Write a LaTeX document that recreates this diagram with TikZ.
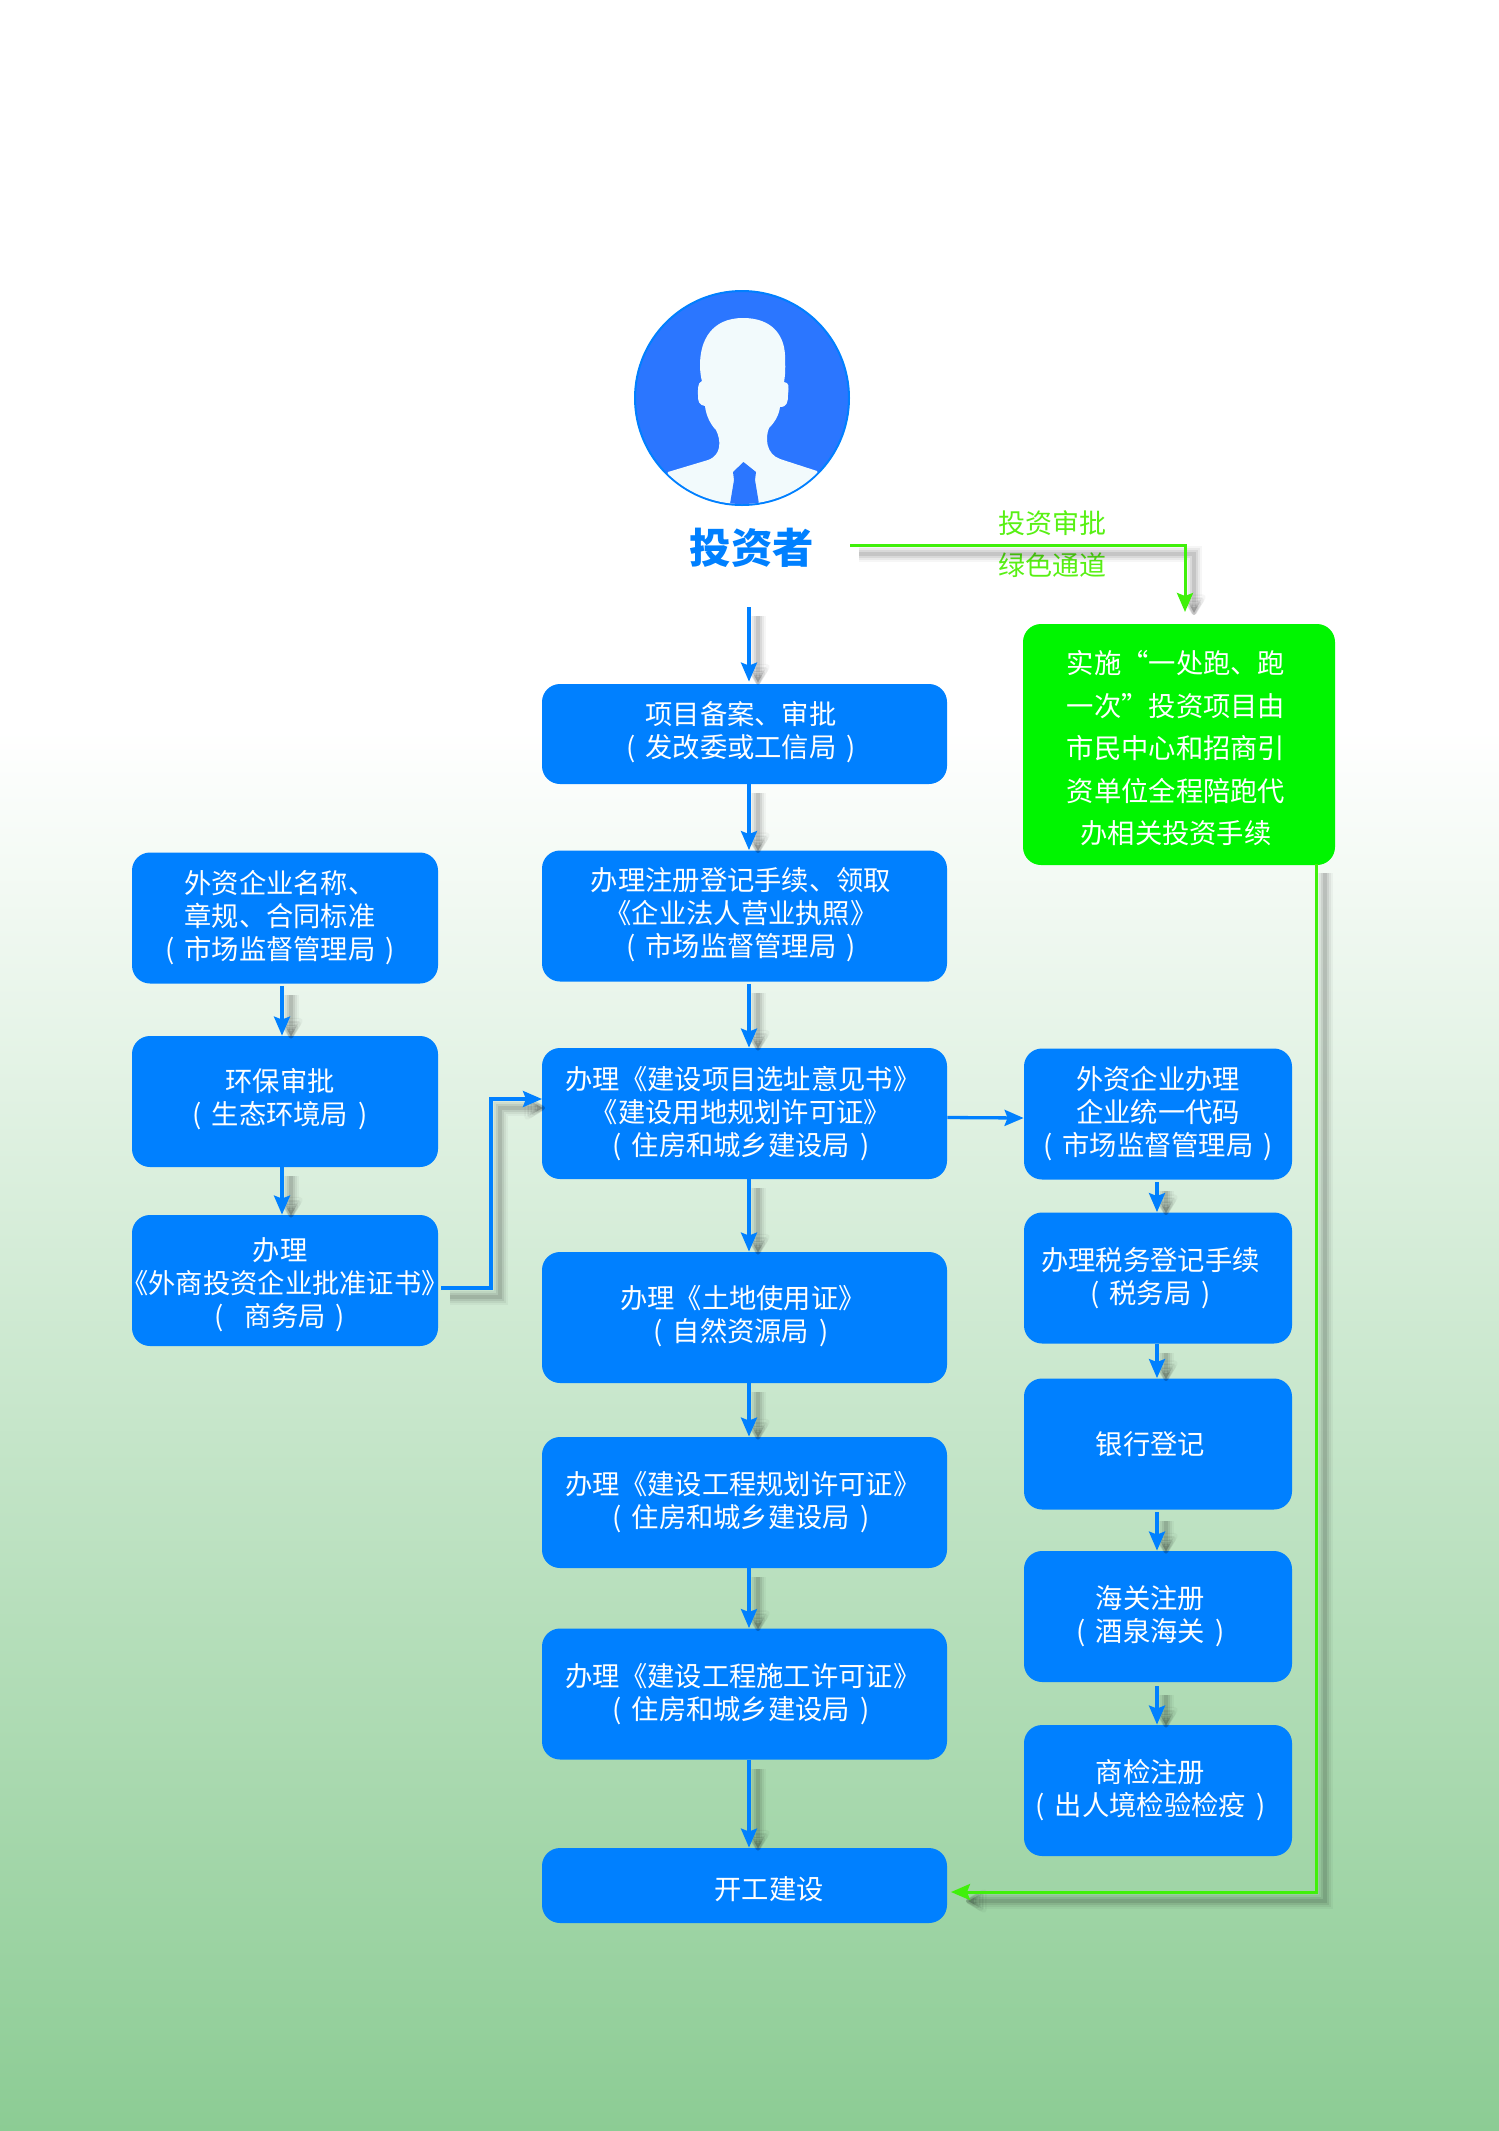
\documentclass[tikz,border=0pt]{standalone}
\usepackage{fontspec}
\setmainfont{Noto Sans CJK SC}
\usepackage{color}
\usepackage{tikz}
\usetikzlibrary{arrows.meta}
\definecolor{flowblue}{RGB}{0,128,255}
\definecolor{avatarblue}{RGB}{43,118,255}
\definecolor{gatefill}{RGB}{0,245,0}
\definecolor{gateline}{RGB}{64,240,10}
\definecolor{gatetext}{RGB}{88,240,20}
\definecolor{fieldgreen}{RGB}{140,204,148}
\definecolor{bust}{RGB}{242,250,252}
% labels sit a little off the box centre, \lean is set per column
\newcommand{\lean}{}
\newcommand{\bureau}[1]{(\hspace{5pt}#1\hspace{5pt})}
\newcommand{\lift}[1]{\rule[-#1pt]{0pt}{0pt}}
\newcommand{\sink}{\rule{0pt}{15.5pt}}
\tikzset{
  flowbox/.style={fill=flowblue,text=white,rounded corners=9pt,inner sep=0pt,
    align=center,font=\fontsize{13.65pt}{16.5pt}\selectfont},
  midbox/.style={flowbox,minimum width=202.5pt,minimum height=65.5pt},
  leftbox/.style={flowbox,minimum width=153pt,minimum height=65.5pt},
  rightbox/.style={flowbox,minimum width=134pt,minimum height=65.5pt},
  gatebox/.style={flowbox,fill=gatefill,minimum width=156pt,minimum height=120.5pt,
    font=\fontsize{13.65pt}{21.25pt}\selectfont},
  gatetag/.style={text=gatetext,inner sep=0pt,font=\fontsize{13.5pt}{16pt}\selectfont},
  shadowlayer/.style n args={4}{preaction={draw=black,opacity=#1,fill=none,line width=#2,
    shorten >=3pt,>={Stealth[length=#3,width=#4,inset=0pt,round]},->,
    transform canvas={shift={(4.5pt,-4.5pt)}}}},
  castshadow/.style={
    shadowlayer={.035}{8pt}{12pt}{13pt},
    shadowlayer={.05}{6pt}{10pt}{11pt},
    shadowlayer={.07}{4pt}{8pt}{8pt},
    shadowlayer={.09}{2.2pt}{6pt}{5pt}},
  flow/.style={castshadow,->,draw=flowblue,line width=1.65pt},
  plainflow/.style={->,draw=flowblue,line width=1.65pt},
  gateflow/.style={castshadow,->,draw=gateline,line width=1.5pt},
}
\begin{document}
\begin{tikzpicture}[x=.5pt,y=-.5pt,>={Stealth[length=9.5pt,width=8pt,inset=1.5pt]}]
    \useasboundingbox (0,0) rectangle (1499,2131);
    \shade[top color=white,bottom color=fieldgreen] (0,730) rectangle (1499,2131);

    % avatar
    \node[circle,draw=flowblue,line width=1pt,fill=avatarblue,minimum size=107pt,inner sep=0pt] (avatar) at (742,398) {};
    \begin{scope}
      \clip (742,398) circle [radius=106];
      \fill[bust] (743,318) .. controls (712,318) and (700,340) .. (700,365)
        .. controls (700,372) and (701,378) .. (702,381)
        .. controls (697,382) and (698,392) .. (698,395)
        .. controls (698,402) and (699,405) .. (705,406)
        .. controls (706,416) and (711,425) .. (716,430)
        .. controls (721,440) and (722,455) .. (708,460)
        -- (668,472) -- (660,520) -- (830,520) -- (817,471)
        -- (780,459) .. controls (766,454) and (765,438) .. (769,428)
        .. controls (775,422) and (779,415) .. (780,407)
        .. controls (787,407) and (788,402) .. (788,395)
        .. controls (789,385) and (789,383) .. (784,382)
        .. controls (786,372) and (785,360) .. (785,355)
        .. controls (784,335) and (772,318) .. (743,318) -- cycle;
      \fill[avatarblue] (743.5,462) -- (733,472) -- (734,480) -- (729,510) -- (760,510) -- (755,480) -- (756,472) -- cycle;
    \end{scope}
    \node[text=flowblue,inner sep=0pt,font=\fontsize{20.7pt}{24pt}\selectfont\bfseries] (investor) at (752,548) {投资者};

    % middle column
    \renewcommand{\lean}{\hspace*{-3.5pt}}
    \node[midbox,minimum height=50pt] (filing) at (744.5,734) {\lean 项目备案、审批\\\lean\bureau{发改委或工信局}\lift{5}};
    \node[midbox] (license) at (744.5,916) {\lean 办理注册登记手续、领取\\\lean《企业法人营业执照》\\\lean\bureau{市场监督管理局}\lift{4}};
    \node[midbox] (siting) at (744.5,1113.5) {\hspace*{-1.5pt}办理《建设项目选址意见书》\\\lean《建设用地规划许可证》\\\lean\bureau{住房和城乡建设局}};
    \node[midbox] (landuse) at (744.5,1317.5) {\hspace*{-1.5pt}办理《土地使用证》\\\lean\bureau{自然资源局}\lift{4}};
    \node[midbox] (planning) at (744.5,1502.5) {\hspace*{-1.5pt}办理《建设工程规划许可证》\\\lean\bureau{住房和城乡建设局}};
    \node[midbox] (permit) at (744.5,1694) {\hspace*{-1.5pt}办理《建设工程施工许可证》\\\lean\bureau{住房和城乡建设局}};
    \node[midbox,minimum height=37.5pt] (start) at (744.5,1885.5) {\hspace*{24.5pt}\sink 开工建设};

    % left column
    \renewcommand{\lean}{\hspace*{-5pt}}
    \node[leftbox] (naming) at (285,918) {\lean 外资企业名称、\\\lean 章规、合同标准\\\lean\bureau{市场监督管理局}};
    \node[leftbox] (ecology) at (285,1101.5) {\lean 环保审批\\\lean\bureau{生态环境局}\lift{5.5}};
    \node[leftbox] (approval) at (285,1280.5) {\lean\sink 办理\\\makebox[150pt]{《外商投资企业批准证书》}\\\lean(\hspace{10pt}商务局\hspace{5pt})};

    % right column
    \node[rightbox] (unicode) at (1158,1114) {外资企业办理\\企业统一代码\\\bureau{市场监督管理局}};
    \renewcommand{\lean}{\hspace*{-7.5pt}}
    \node[rightbox] (tax) at (1158,1278) {\lean 办理税务登记手续\\\lean\bureau{税务局}};
    \node[rightbox] (bank) at (1158,1444) {\lean 银行登记};
    \node[rightbox] (customs) at (1158,1616.5) {\lean 海关注册\\\lean\bureau{酒泉海关}};
    \node[rightbox] (inspect) at (1158,1790.5) {\lean 商检注册\\\lean\bureau{出人境检验检疫}};

    % green channel
    \renewcommand{\lean}{\hspace*{-3pt}}
    \node[gatebox] (oneway) at (1179,744.5) {\lean\sink 实施“一处跑、跑\\\lean 一次”投资项目由\\\lean 市民中心和招商引\\\lean 资单位全程陪跑代\\\lean 办相关投资手续};
    \node[gatetag] (gateup) at (1052,523) {投资审批};
    \node[gatetag] (gatedown) at (1052,565) {绿色通道};

    \coordinate (spine) at (749,0);
    \coordinate (spineleft) at (282,0);
    \coordinate (spineright) at (1157,0);
    \coordinate (investorout) at (749,607);
    \coordinate (gateout) at (850,545);
    \coordinate (gatein) at (1185,612);
    \coordinate (gatedrop) at (1316,864);
    \coordinate (startin) at (951,1892);
    \coordinate (approvalout) at (441,1288);
    \coordinate (sitingin) at (542,1099);
    \coordinate (elbow) at (491,0);

    \draw[flow] (investorout) -- ([yshift=1pt]filing.north -| spine);
    \draw[flow] (filing.south -| spine) -- (license.north -| spine);
    \draw[flow] ([yshift=-1pt]license.south -| spine) -- (siting.north -| spine);
    \draw[flow] (siting.south -| spine) -- (landuse.north -| spine);
    \draw[flow] (landuse.south -| spine) -- (planning.north -| spine);
    \draw[flow] (planning.south -| spine) -- (permit.north -| spine);
    \draw[flow] (permit.south -| spine) -- (start.north -| spine);

    \draw[flow] ([yshift=-1pt]naming.south -| spineleft) -- (ecology.north -| spineleft);
    \draw[flow] (ecology.south -| spineleft) -- (approval.north -| spineleft);
    \draw[flow] (approvalout) -- (elbow |- approvalout) -- (elbow |- sitingin) -- (sitingin);

    \draw[plainflow] ([yshift=-2pt]siting.east) -- ([yshift=-2pt]unicode.west);
    \draw[flow] ([yshift=-1pt]unicode.south -| spineright) -- (tax.north -| spineright);
    \draw[flow] (tax.south -| spineright) -- (bank.north -| spineright);
    \draw[flow] ([yshift=-1pt]bank.south -| spineright) -- (customs.north -| spineright);
    \draw[flow] ([yshift=-2pt]customs.south -| spineright) -- (inspect.north -| spineright);

    \draw[gateflow] (gateout) -| (gatein);
    \draw[gateflow] (gatedrop) |- (startin);
\end{tikzpicture}
\end{document}
